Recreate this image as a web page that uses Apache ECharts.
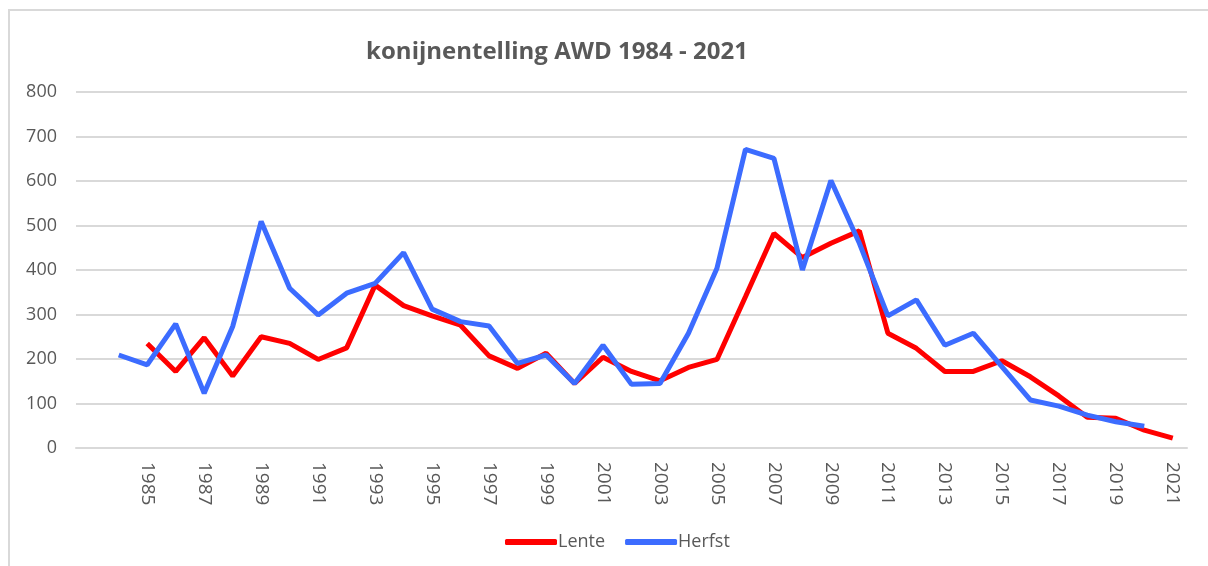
<!DOCTYPE html>
<html>
<head>
<meta charset="utf-8">
<script src="https://cdn.jsdelivr.net/npm/echarts@6/dist/echarts.min.js"></script>
<style>
  html, body { margin: 0; padding: 0; background: #fff; }
  #main { width: 1208px; height: 566px; }
</style>
</head>
<body>
<div id="main"></div>
<script>
// jaren (eerste categorie leeg, zoals in de Excel-grafiek)
var years = ['', '1984', '1985', '1986', '1987', '1988', '1989', '1990', '1991', '1992', '1993',
  '1994', '1995', '1996', '1997', '1998', '1999', '2000', '2001', '2002', '2003',
  '2004', '2005', '2006', '2007', '2008', '2009', '2010', '2011', '2012', '2013',
  '2014', '2015', '2016', '2017', '2018', '2019', '2020', '2021'];

var lente = [null, null, 235, 172, 248, 162, 250, 235, 199, 225, 366,
  320, 297, 276, 207, 179, 213, 145, 204, 172, 151,
  181, 199, 340, 482, 428, 460, 488, 258, 224, 172,
  172, 196, 160, 117, 69, 67, 40, 22];

var herfst = [null, 209, 187, 279, 123, 273, 509, 359, 299, 348, 370,
  439, 312, 284, 274, 190, 209, 145, 231, 143, 145,
  258, 404, 671, 651, 400, 601, 460, 297, 333, 231,
  258, 183, 108, 94, 74, 59, 49, null];

var yTicks = [0, 100, 200, 300, 400, 500, 600, 700, 800];

var myChart = echarts.init(document.getElementById('main'));
var option = {
  animation: false,
  textStyle: { fontFamily: 'Open Sans' },
  // kader rond de grafiek
  graphic: [{
    type: 'rect',
    shape: { x: 9, y: 10, width: 1210, height: 570 },
    style: { fill: 'none', stroke: '#d9d9d9', lineWidth: 2 },
    silent: true
  }],
  title: {
    text: 'konijnentelling AWD 1984 - 2021',
    left: 552,
    textAlign: 'center',
    top: 35,
    textStyle: { fontSize: 24, fontWeight: 'bold', color: '#595959', fontFamily: 'Open Sans' }
  },
  legend: {
    data: ['Lente', 'Herfst'],
    bottom: 10,
    left: 500,
    itemWidth: 52,
    itemHeight: 6,
    itemGap: 20,
    icon: 'roundRect',
    textStyle: { fontSize: 18, color: '#595959', padding: [0, 0, 0, -4] }
  },
  grid: { left: 76, right: 21, top: 92, bottom: 118, containLabel: false },
  xAxis: {
    type: 'category',
    data: years,
    boundaryGap: true,
    axisLine: { lineStyle: { color: '#d9d9d9', width: 2 } },
    axisTick: { show: false },
    axisLabel: {
      interval: 1,
      rotate: -90,
      margin: 14,
      fontSize: 19,
      color: '#595959'
    }
  },
  yAxis: {
    type: 'value',
    min: 0,
    max: yTicks[yTicks.length - 1],
    interval: 100,
    axisLine: { show: false },
    axisTick: { show: false },
    splitLine: { lineStyle: { color: '#d9d9d9', width: 2 } },
    axisLabel: { fontSize: 18, color: '#595959', margin: 19 }
  },
  series: [{
    name: 'Lente',
    type: 'line',
    data: lente,
    symbol: 'none',
    color: '#ff0000',
    lineStyle: { width: 5, color: '#ff0000' }
  }, {
    name: 'Herfst',
    type: 'line',
    data: herfst,
    symbol: 'none',
    color: '#3c6cff',
    lineStyle: { width: 5, color: '#3c6cff' }
  }]
};
myChart.setOption(option);
</script>
</body>
</html>
